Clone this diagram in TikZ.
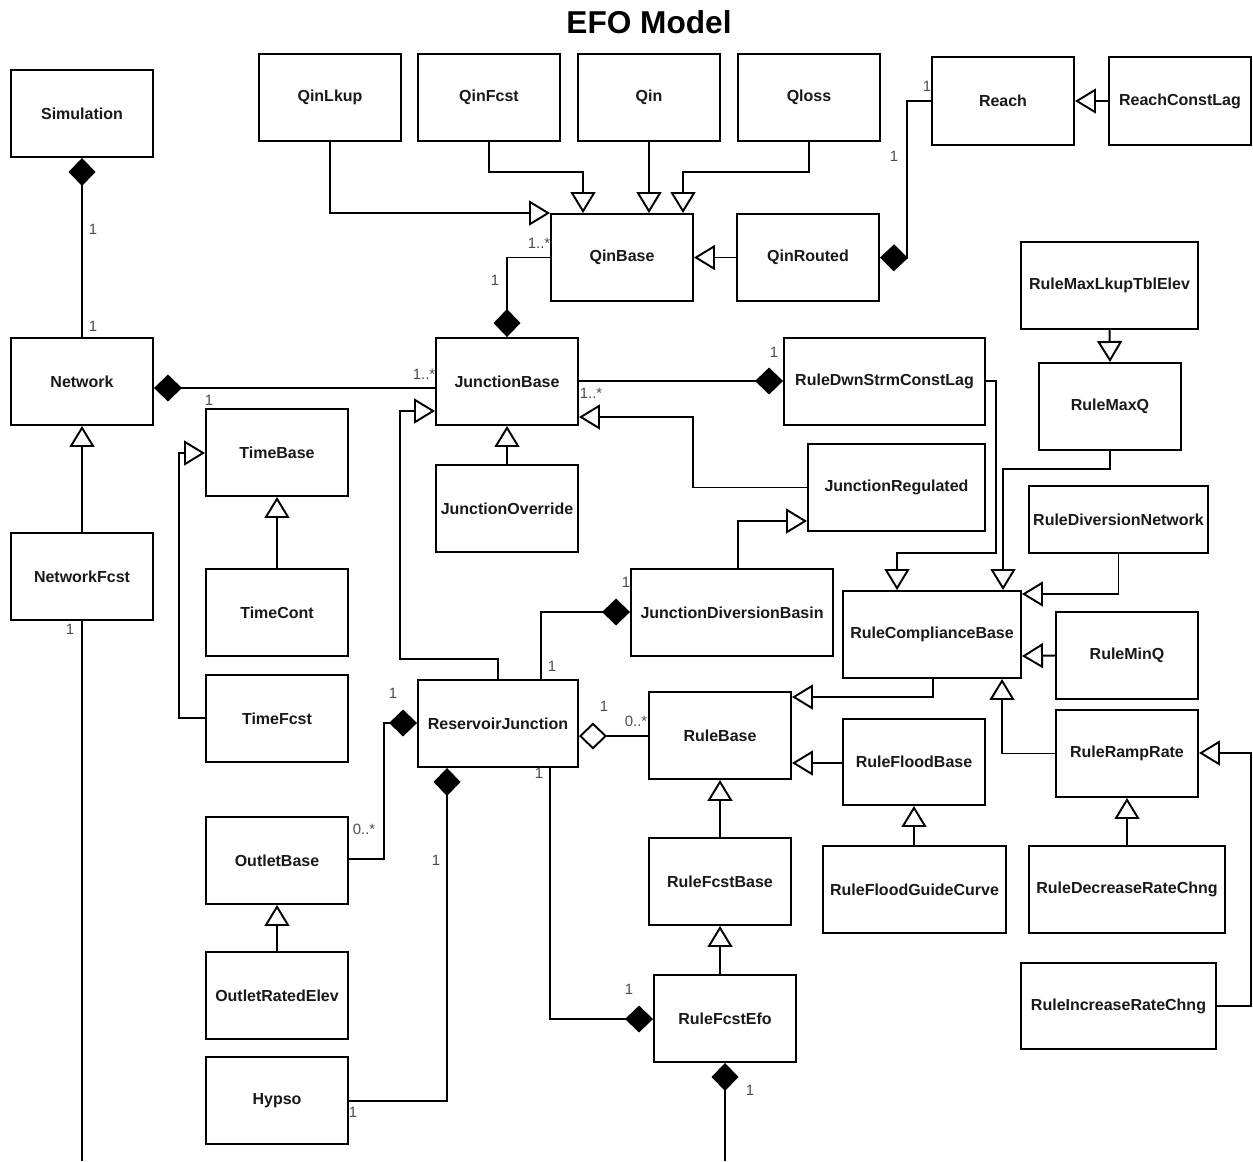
\documentclass[tikz,border=0pt]{standalone}
\usepackage{fontspec}
\setmainfont{Liberation Sans}
\usetikzlibrary{arrows.meta}
\newcommand\umlbox[6]{\node[cls, minimum width={(#4-#2)*0.02cm}, minimum height={(#5-#3)*0.02cm}] (#1) at ({(#2+#4)/2},{(#3+#5)/2}) {#6};}
\newcommand\mult[3]{\node[mlt] (#1) at (#2) {#3};}
\begin{document}
\begin{tikzpicture}[x=0.02cm,y=-0.02cm,
  cls/.style={draw=black, line width=1.1pt, fill=white, inner sep=1pt, font=\fontsize{9.1}{11}\selectfont\bfseries, text=black!90},
  mlt/.style={inner sep=0pt, font=\fontsize{8.5}{10}\selectfont, text=black!70},
  conn/.style={line width=1.1pt, draw=black},
  gen/.style={conn, -{Triangle[open,length=0.42cm,width=0.5cm,fill=white]}},
  comp/.style={conn, -{Diamond[length=0.56cm,width=0.54cm,fill=black]}},
  aggr/.style={conn, -{Diamond[open,length=0.56cm,width=0.54cm,fill=white]}},
  plain/.style={conn}]
\useasboundingbox (0,0) rectangle (1253,1161);
\fill[white] (0,0) rectangle (1253,1161);
\node[font=\fontsize{18}{20}\selectfont\bfseries] (title) at (649,22) {EFO Model};
% classes
\umlbox{sim}{11}{70}{153}{157}{Simulation}
\umlbox{net}{11}{338}{153}{425}{Network}
\umlbox{netf}{11}{533}{153}{620}{NetworkFcst}
\umlbox{qlk}{259}{54}{401}{141}{QinLkup}
\umlbox{qfc}{418}{54}{560}{141}{QinFcst}
\umlbox{qin}{578}{54}{720}{141}{Qin}
\umlbox{qls}{738}{54}{880}{141}{Qloss}
\umlbox{reach}{932}{57}{1074}{145}{Reach}
\umlbox{rcl}{1109}{57}{1251}{145}{ReachConstLag}
\umlbox{qb}{551}{214}{693}{301}{QinBase}
\umlbox{qr}{737}{214}{879}{301}{QinRouted}
\umlbox{rmlt}{1021}{242}{1198}{329}{RuleMaxLkupTblElev}
\umlbox{jb}{436}{338}{578}{425}{JunctionBase}
\umlbox{rdsc}{784}{338}{985}{425}{RuleDwnStrmConstLag}
\umlbox{rmq}{1039}{363}{1181}{450}{RuleMaxQ}
\umlbox{tb}{206}{409}{348}{496}{TimeBase}
\umlbox{jo}{436}{465}{578}{552}{JunctionOverride}
\umlbox{jr}{808}{444}{985}{531}{JunctionRegulated}
\umlbox{rdn}{1029}{486}{1208}{553}{RuleDiversionNetwork}
\umlbox{tc}{206}{569}{348}{656}{TimeCont}
\umlbox{jdb}{631}{569}{833}{656}{JunctionDiversionBasin}
\umlbox{rcb}{843}{591}{1021}{678}{RuleComplianceBase}
\umlbox{rmin}{1056}{612}{1198}{699}{RuleMinQ}
\umlbox{tf}{206}{675}{348}{762}{TimeFcst}
\umlbox{rj}{418}{680}{578}{767}{ReservoirJunction}
\umlbox{rb}{649}{692}{791}{779}{RuleBase}
\umlbox{rfb}{843}{719}{985}{805}{RuleFloodBase}
\umlbox{rrr}{1056}{710}{1198}{797}{RuleRampRate}
\umlbox{ob}{206}{817}{348}{904}{OutletBase}
\umlbox{rfcb}{649}{838}{791}{925}{RuleFcstBase}
\umlbox{rfgc}{823}{846}{1006}{933}{RuleFloodGuideCurve}
\umlbox{rdrc}{1029}{846}{1225}{933}{RuleDecreaseRateChng}
\umlbox{ore}{206}{952}{348}{1039}{OutletRatedElev}
\umlbox{rirc}{1021}{963}{1216}{1049}{RuleIncreaseRateChng}
\umlbox{rfe}{654}{975}{796}{1062}{RuleFcstEfo}
\umlbox{hyp}{206}{1057}{348}{1144}{Hypso}
\coordinate (netEnd) at (82,1161);
\coordinate (efoEnd) at (725,1161);
% connectors
\draw[comp] (net.north) -- (sim.south);
\draw[comp] (jb.west |- 0,388) -- (net.east |- 0,388);
\draw[gen] (netf.north) -- (net.south);
\draw[plain] (netf.south) -- (netEnd);
\draw[gen] (qlk.south) |- (qb.north west);
\draw[gen] (qfc.south) |- (583,172) -- (qb.north -| 583,0);
\draw[gen] (qin.south) -- (qb.north -| qin.south);
\draw[gen] (qls.south) |- (683,172) -- (qb.north -| 683,0);
\draw[gen] (qr.west) -- (qb.east);
\draw[comp] (reach.west |- 0,101) -| (907,258) -- (qr.east);
\draw[gen] (rcl.west |- 0,101) -- (reach.east |- 0,101);
\draw[comp] (qb.west) -| (jb.north);
\draw[comp] (jb.east |- 0,381) -- (rdsc.west |- 0,381);
\draw[gen] (jr.west) -| (693,417) -- (jb.east |- 0,417);
\draw[gen] (jo.north) -- (jb.south);
\draw[gen] (rj.north -| 498,0) |- (400,659) |- (jb.west |- 0,411);
\draw[gen] (jdb.north -| 738,0) |- (jr.west |- 0,521);
\draw[comp] (rj.north -| 541,0) |- (jdb.west |- 0,612);
\draw[gen] (rmlt.south) -- (rmq.north);
\draw[gen] (rmq.south) |- (1003,469) -- (rcb.north -| 1003,0);
\draw[gen] (rdsc.east |- 0,381) -| (996,553) -| (rcb.north -| 897,0);
\draw[gen] (rdn.south) |- (rcb.east |- 0,594);
\draw[gen] (rmin.west) -- (rcb.east |- 0,656);
\draw[gen] (rcb.south -| 933,0) |- (rb.east |- 0,697);
\draw[gen] (rrr.west) -| (rcb.south -| 1002,0);
\draw[gen] (rfb.west |- 0,763) -- (rb.east |- 0,763);
\draw[gen] (rfgc.north -| 914,0) -- (rfb.south -| 914,0);
\draw[gen] (rdrc.north) -- (rrr.south);
\draw[gen] (rirc.east |- 0,1006) -| (1251,753) -- (rrr.east |- 0,753);
\draw[gen] (rfcb.north) -- (rb.south);
\draw[gen] (rfe.north -| 720,0) -- (rfcb.south);
\draw[aggr] (rb.west |- 0,736) -- (rj.east |- 0,736);
\draw[comp] (rj.south -| 550,0) |- (rfe.west |- 0,1019);
\draw[comp] (efoEnd) -- (rfe.south -| 725,0);
\draw[comp] (ob.east |- 0,859) -| (384,723) -- (rj.west |- 0,723);
\draw[comp] (hyp.east |- 0,1101) -| (rj.south -| 447,0);
\draw[gen] (tf.west |- 0,718) -| (179,453) -- (tb.west |- 0,453);
\draw[gen] (tc.north) -- (tb.south);
\draw[gen] (ore.north) -- (ob.south);
% multiplicities
\mult{m1}{93,229}{1}
\mult{m2}{93,326}{1}
\mult{m3}{424,374}{1..*}
\mult{m4}{209,400}{1}
\mult{m5}{70,629}{1}
\mult{m6}{539,243}{1..*}
\mult{m7}{495,280}{1}
\mult{m8}{927,86}{1}
\mult{m9}{894,156}{1}
\mult{m10}{774,352}{1}
\mult{m11}{591,393}{1..*}
\mult{m12}{626,582}{1}
\mult{m13}{552,666}{1}
\mult{m14}{393,693}{1}
\mult{m15}{604,706}{1}
\mult{m16}{636,721}{0..*}
\mult{m17}{539,773}{1}
\mult{m18}{364,829}{0..*}
\mult{m19}{436,860}{1}
\mult{m20}{629,989}{1}
\mult{m21}{750,1090}{1}
\mult{m22}{353,1112}{1}
\end{tikzpicture}
\end{document}
